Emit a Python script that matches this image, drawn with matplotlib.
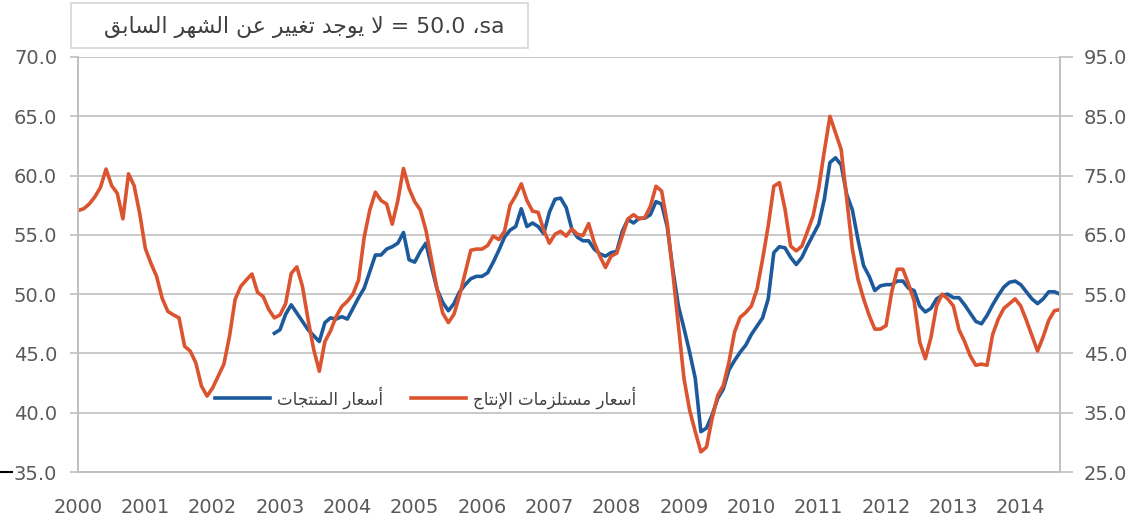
import numpy as np
import matplotlib
matplotlib.use("Agg")
import matplotlib.pyplot as plt
from matplotlib.patches import Rectangle
from matplotlib.lines import Line2D

plt.rcParams['font.family'] = ['DejaVu Sans']

# monthly PMI readings, Jan 2000 .. Aug 2014 (input prices, right axis)
input_prices = [
    69.1, 69.4, 70.2, 71.4, 73.0, 76.1, 73.3, 72.0, 67.7, 75.3, 73.3, 68.6,  # 2000
    62.7, 60.2, 58.0, 54.3, 52.1, 51.5, 51.0, 46.2, 45.4, 43.4, 39.5, 37.8,  # 2001
    39.2, 41.2, 43.2, 47.9, 54.1, 56.3, 57.4, 58.4, 55.3, 54.6, 52.4, 51.0,  # 2002
    51.5, 53.4, 58.5, 59.6, 56.3, 50.7, 45.7, 42.0, 47.0, 48.8, 51.2, 52.9,  # 2003
    53.8, 55.0, 57.4, 64.6, 69.2, 72.2, 70.8, 70.2, 66.8, 70.8, 76.2, 72.8,  # 2004
    70.6, 69.2, 65.8, 60.8, 55.8, 51.8, 50.2, 51.6, 54.8, 58.6, 62.4, 62.6,  # 2005
    62.6, 63.2, 64.8, 64.2, 65.6, 70.0, 71.6, 73.6, 70.8, 69.0, 68.8, 65.8,  # 2006
    63.6, 65.1, 65.6, 64.8, 66.0, 65.1, 64.9, 66.9, 63.7, 61.4, 59.5, 61.4,  # 2007
    61.9, 64.8, 67.7, 68.4, 67.7, 67.9, 69.8, 73.2, 72.4, 67.0, 58.6, 49.7,  # 2008
    40.7, 35.4, 31.8, 28.4, 29.2, 34.0, 37.9, 39.6, 43.5, 48.6, 51.1, 51.9,  # 2009
    53.0, 55.8, 60.9, 66.5, 73.2, 73.8, 69.3, 63.1, 62.3, 63.1, 65.6, 68.2,  # 2010
    72.9, 79.1, 85.0, 82.2, 79.4, 71.0, 62.6, 57.5, 54.2, 51.4, 49.1, 49.1,  # 2011
    49.7, 55.3, 59.2, 59.2, 56.7, 53.9, 46.9, 44.1, 47.7, 53.0, 55.0, 54.2,  # 2012
    53.0, 49.0, 47.0, 44.6, 43.0, 43.2, 43.0, 48.2, 50.8, 52.6, 53.4, 54.2,  # 2013
    53.0, 50.6, 48.0, 45.4, 47.8, 50.6, 52.2, 52.4,                          # 2014
]

# output prices (left axis), Dec 2002 .. Aug 2014
output_start = 35  # months after Jan 2000
output_prices = [
    46.7,                                                                    # 2002
    47.0, 48.3, 49.1, 48.4, 47.7, 47.0, 46.5, 46.0, 47.6, 48.0, 47.9, 48.1,  # 2003
    47.9, 48.8, 49.7, 50.5, 51.9, 53.3, 53.3, 53.8, 54.0, 54.3, 55.2, 52.9,  # 2004
    52.7, 53.6, 54.3, 52.3, 50.4, 49.3, 48.6, 49.2, 50.2, 50.8, 51.3, 51.5,  # 2005
    51.5, 51.8, 52.7, 53.7, 54.8, 55.4, 55.7, 57.2, 55.7, 56.0, 55.7, 55.1,  # 2006
    56.9, 58.0, 58.1, 57.3, 55.5, 54.8, 54.5, 54.5, 53.8, 53.4, 53.2, 53.5,  # 2007
    53.6, 55.3, 56.3, 56.0, 56.4, 56.4, 56.7, 57.8, 57.6, 55.7, 52.1, 49.0,  # 2008
    47.1, 45.1, 42.9, 38.4, 38.7, 39.8, 41.2, 42.0, 43.6, 44.4, 45.1, 45.7,  # 2009
    46.6, 47.3, 48.0, 49.6, 53.5, 54.0, 53.9, 53.1, 52.5, 53.1, 54.1, 55.0,  # 2010
    55.9, 58.0, 61.1, 61.5, 60.9, 58.4, 57.1, 54.6, 52.4, 51.5, 50.3, 50.7,  # 2011
    50.8, 50.8, 51.1, 51.1, 50.5, 50.3, 49.0, 48.5, 48.8, 49.6, 49.9, 50.0,  # 2012
    49.7, 49.7, 49.1, 48.4, 47.7, 47.5, 48.2, 49.1, 49.9, 50.6, 51.0, 51.1,  # 2013
    50.8, 50.2, 49.6, 49.2, 49.6, 50.2, 50.2, 50.0,                          # 2014
]

years = list(range(2000, 2015))
left_ticks = [35, 40, 45, 50, 55, 60, 65, 70]
right_ticks = [25, 35, 45, 55, 65, 75, 85, 95]

label_out = 'أسعار المنتجات'
label_in = 'أسعار مستلزمات الإنتاج'
note = 'لا يوجد تغيير عن الشهر السابق'

# --- tiny arabic shaper (matplotlib has no shaping / bidi) ---
FORMS = {
    'ا': ('\uFE8D', '\uFE8E', None, None),
    'أ': ('\uFE83', '\uFE84', None, None),
    'إ': ('\uFE87', '\uFE88', None, None),
    'ب': ('\uFE8F', '\uFE90', '\uFE91', '\uFE92'),
    'ت': ('\uFE95', '\uFE96', '\uFE97', '\uFE98'),
    'ج': ('\uFE9D', '\uFE9E', '\uFE9F', '\uFEA0'),
    'د': ('\uFEA9', '\uFEAA', None, None),
    'ر': ('\uFEAD', '\uFEAE', None, None),
    'ز': ('\uFEAF', '\uFEB0', None, None),
    'س': ('\uFEB1', '\uFEB2', '\uFEB3', '\uFEB4'),
    'ش': ('\uFEB5', '\uFEB6', '\uFEB7', '\uFEB8'),
    'ع': ('\uFEC9', '\uFECA', '\uFECB', '\uFECC'),
    'غ': ('\uFECD', '\uFECE', '\uFECF', '\uFED0'),
    'ق': ('\uFED5', '\uFED6', '\uFED7', '\uFED8'),
    'ل': ('\uFEDD', '\uFEDE', '\uFEDF', '\uFEE0'),
    'م': ('\uFEE1', '\uFEE2', '\uFEE3', '\uFEE4'),
    'ن': ('\uFEE5', '\uFEE6', '\uFEE7', '\uFEE8'),
    'ه': ('\uFEE9', '\uFEEA', '\uFEEB', '\uFEEC'),
    'و': ('\uFEED', '\uFEEE', None, None),
    'ي': ('\uFEF1', '\uFEF2', '\uFEF3', '\uFEF4'),
}
LAM_ALEF = {'ا': ('\uFEFB', '\uFEFC'), 'أ': ('\uFEF7', '\uFEF8'),
            'إ': ('\uFEF9', '\uFEFA')}


def shape(text):
    # group lam+alef into one token
    toks = []
    i = 0
    while i < len(text):
        c = text[i]
        if c == 'ل' and i + 1 < len(text) and text[i + 1] in LAM_ALEF:
            toks.append(('LA', text[i + 1]))
            i += 2
        else:
            toks.append(('C', c))
            i += 1

    def joins_next(t):
        return t[0] == 'C' and t[1] in FORMS and FORMS[t[1]][2] is not None

    def arabic(t):
        return t[0] == 'LA' or t[1] in FORMS

    out = []
    for k, t in enumerate(toks):
        prev_j = k > 0 and joins_next(toks[k - 1]) and arabic(t)
        if t[0] == 'LA':
            out.append(LAM_ALEF[t[1]][1 if prev_j else 0])
            continue
        c = t[1]
        if c not in FORMS:
            out.append(c)
            continue
        nxt = k + 1 < len(toks) and arabic(toks[k + 1])
        nxt_j = nxt and joins_next(t)
        iso, fin, ini, med = FORMS[c]
        if prev_j and nxt_j:
            out.append(med)
        elif prev_j:
            out.append(fin)
        elif nxt_j:
            out.append(ini)
        else:
            out.append(iso)
    return ''.join(out)[::-1]


x_in = 2000 + np.arange(len(input_prices)) / 12
x_out = 2000 + (output_start + np.arange(len(output_prices))) / 12

fig = plt.figure(figsize=(11.35, 5.18), dpi=100)
ax = fig.add_axes([78 / 1135, 1 - 472 / 518, (1060 - 78) / 1135, 415 / 518])
ax2 = ax.twinx()

grid_c = '#c0c0c0'
text_c = '#595959'
blue = '#1c5a9c'
red = '#dc5330'

l1, = ax.plot(x_out, output_prices, color=blue, lw=2.6, solid_joinstyle='round')
l2, = ax2.plot(x_in, input_prices, color=red, lw=2.6, solid_joinstyle='round')

ax.set_xlim(2000, x_in[-1])
ax.set_ylim(35, 70)
ax2.set_ylim(25, 95)
ax.set_yticks(left_ticks)
ax.set_yticklabels(['%.1f' % v for v in left_ticks])
ax2.set_yticks(right_ticks)
ax2.set_yticklabels(['%.1f' % v for v in right_ticks])

ax.set_xticks(years)
ax.set_xticklabels([str(y) for y in years])
ax.set_xticks(years[::2], minor=True)
ax.tick_params(axis='x', which='major', length=0, pad=19, labelsize=14, labelcolor=text_c)
ax.tick_params(axis='x', which='minor', length=7, width=1.2, color=grid_c)
ax.tick_params(axis='y', length=6, width=1.2, color=grid_c, labelsize=14, labelcolor=text_c, pad=9)
ax2.tick_params(axis='y', length=9, width=1.2, color=grid_c, labelsize=14, labelcolor=text_c, pad=8)

ax.grid(axis='y', color=grid_c, lw=1.2)
ax.set_axisbelow(True)
for a in (ax, ax2):
    for side in ('left', 'right', 'bottom'):
        a.spines[side].set_color(grid_c)
        a.spines[side].set_linewidth(1.2)
    a.spines['top'].set_visible(False)

ax2.legend([l1, l2], [shape(label_out), shape(label_in)], ncol=2, frameon=False,
           loc='center left', bbox_to_anchor=(0.1395, 0.18), borderaxespad=0, borderpad=0,
           handlelength=3.3, handletextpad=0.4, columnspacing=1.7,
           prop={'size': 12}, labelcolor='#404040')

# note box at the top
fig.patches.append(Rectangle((71 / 1135, 1 - 48 / 518), 457 / 1135, 45 / 518,
                             transform=fig.transFigure, fill=False,
                             edgecolor='#d6d6d6', lw=1.2))
fig.text(304 / 1135, 1 - 27 / 518, shape(note) + ' = 50.0 \u060csa',
         ha='center', va='center', fontsize=15.8, color='#404040')

# stray mark left of the bottom label
fig.add_artist(Line2D([0, 12 / 1135], [1 - 472 / 518] * 2, color='black', lw=1.5))

fig.savefig('out.png', dpi=100)
